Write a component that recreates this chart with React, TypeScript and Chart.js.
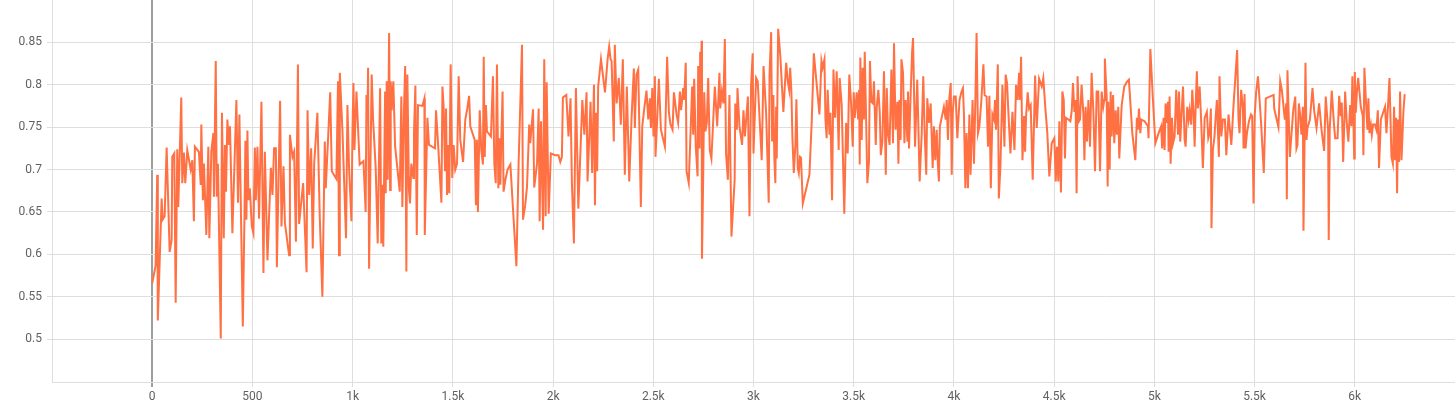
import React, { useEffect, useRef } from "react";
import { Chart, registerables } from "chart.js";

Chart.register(...registerables);

// Tick definitions
const X_TICKS = [0, 500, 1000, 1500, 2000, 2500, 3000, 3500, 4000, 4500, 5000, 5500, 6000];
const X_LABELS = ["0", "500", "1k", "1.5k", "2k", "2.5k", "3k", "3.5k", "4k", "4.5k", "5k", "5.5k", "6k"];
const Y_TICKS = [0.5, 0.55, 0.6, 0.65, 0.7, 0.75, 0.8, 0.85];
const Y_LABELS = ["0.5", "0.55", "0.6", "0.65", "0.7", "0.75", "0.8", "0.85"];

// [step, value] pairs, grouped by range
const run0to750: [number, number][] = [
  [0, 0.566], [17, 0.587], [25, 0.694], [28, 0.522], [47, 0.666], [52, 0.641], [62, 0.645], [72, 0.726],
  [87, 0.603], [97, 0.617], [100, 0.715], [110, 0.719], [117, 0.543], [125, 0.724], [130, 0.656], [145, 0.785],
  [150, 0.684], [158, 0.72], [165, 0.684], [175, 0.723], [192, 0.7], [200, 0.711], [208, 0.639], [213, 0.727],
  [233, 0.721], [242, 0.682], [245, 0.753], [253, 0.664], [258, 0.707], [270, 0.623], [280, 0.727], [285, 0.619],
  [295, 0.721], [305, 0.743], [308, 0.668], [317, 0.828], [322, 0.668], [328, 0.707], [342, 0.501], [348, 0.767],
  [357, 0.619], [363, 0.729], [368, 0.674], [375, 0.759], [383, 0.729], [388, 0.751], [400, 0.625], [420, 0.782],
  [428, 0.661], [435, 0.765], [442, 0.66], [452, 0.515], [460, 0.641], [465, 0.734], [470, 0.641], [475, 0.746],
  [480, 0.664], [487, 0.678], [497, 0.633], [505, 0.625], [512, 0.726], [517, 0.664], [525, 0.727], [533, 0.642],
  [545, 0.78], [555, 0.578], [562, 0.721], [575, 0.593], [592, 0.702], [600, 0.67], [608, 0.725], [617, 0.725],
  [622, 0.585], [638, 0.781], [645, 0.633], [655, 0.704], [662, 0.637], [683, 0.599], [687, 0.741], [700, 0.715],
  [708, 0.721], [717, 0.615], [727, 0.824],
];

const run750to1420: [number, number][] = [
  [733, 0.636], [753, 0.684], [770, 0.579], [775, 0.77], [783, 0.67], [793, 0.725], [801, 0.607], [808, 0.706],
  [824, 0.767], [836, 0.644], [849, 0.55], [861, 0.733], [866, 0.678], [888, 0.791], [896, 0.698], [919, 0.689],
  [927, 0.804], [932, 0.599], [936, 0.814], [949, 0.747], [967, 0.619], [974, 0.776], [982, 0.703], [994, 0.639],
  [999, 0.743], [1004, 0.802], [1009, 0.723], [1019, 0.792], [1035, 0.706], [1054, 0.71], [1065, 0.65], [1069, 0.788],
  [1074, 0.763], [1077, 0.82], [1082, 0.583], [1095, 0.812], [1102, 0.759], [1115, 0.702], [1125, 0.613], [1137, 0.796],
  [1143, 0.613], [1148, 0.682], [1153, 0.609], [1162, 0.792], [1165, 0.672], [1170, 0.804], [1175, 0.688], [1182, 0.861],
  [1187, 0.676], [1190, 0.804], [1195, 0.77], [1203, 0.804], [1212, 0.727], [1235, 0.674], [1243, 0.786], [1248, 0.656],
  [1256, 0.77], [1262, 0.822], [1268, 0.58], [1273, 0.812], [1281, 0.676], [1286, 0.66], [1293, 0.707], [1303, 0.69],
  [1306, 0.743], [1313, 0.799], [1320, 0.623], [1326, 0.776], [1348, 0.775], [1358, 0.784], [1360, 0.623], [1373, 0.761],
  [1381, 0.729], [1411, 0.725], [1416, 0.77],
];

const run1420to2110: [number, number][] = [
  [1426, 0.731], [1443, 0.661], [1448, 0.798], [1454, 0.774], [1461, 0.698], [1466, 0.772], [1471, 0.67], [1476, 0.729],
  [1482, 0.672], [1489, 0.824], [1497, 0.69], [1504, 0.729], [1512, 0.7], [1521, 0.707], [1529, 0.81], [1537, 0.735],
  [1551, 0.709], [1562, 0.759], [1572, 0.772], [1581, 0.787], [1587, 0.751], [1609, 0.735], [1615, 0.658], [1620, 0.735],
  [1625, 0.65], [1634, 0.77], [1642, 0.723], [1650, 0.706], [1654, 0.833], [1659, 0.715], [1665, 0.776], [1670, 0.745],
  [1690, 0.739], [1700, 0.81], [1707, 0.707], [1714, 0.684], [1720, 0.824], [1727, 0.678], [1732, 0.737], [1737, 0.682],
  [1742, 0.737], [1748, 0.792], [1753, 0.674], [1762, 0.688], [1773, 0.7], [1787, 0.706], [1817, 0.586], [1828, 0.707],
  [1845, 0.847], [1850, 0.641], [1861, 0.658], [1870, 0.68], [1881, 0.753], [1886, 0.731], [1900, 0.771], [1906, 0.679],
  [1920, 0.707], [1928, 0.772], [1933, 0.639], [1940, 0.757], [1950, 0.629], [1956, 0.83], [1963, 0.645], [1968, 0.803],
  [1978, 0.648], [1989, 0.719], [2011, 0.717], [2027, 0.717], [2036, 0.709], [2044, 0.715], [2049, 0.785], [2066, 0.788],
  [2077, 0.739], [2087, 0.784], [2094, 0.684], [2104, 0.613],
];

const run2110to2800: [number, number][] = [
  [2114, 0.796], [2126, 0.654], [2146, 0.782], [2156, 0.741], [2167, 0.791], [2172, 0.686], [2187, 0.78], [2195, 0.696],
  [2204, 0.8], [2209, 0.658], [2214, 0.767], [2220, 0.698], [2225, 0.798], [2239, 0.83], [2259, 0.791], [2272, 0.83],
  [2280, 0.845], [2287, 0.83], [2292, 0.828], [2303, 0.733], [2308, 0.847], [2317, 0.778], [2328, 0.808], [2338, 0.753],
  [2348, 0.83], [2358, 0.694], [2368, 0.798], [2380, 0.686], [2392, 0.763], [2403, 0.819], [2408, 0.749], [2416, 0.812],
  [2425, 0.818], [2438, 0.656], [2445, 0.751], [2455, 0.772], [2466, 0.793], [2475, 0.759], [2483, 0.784], [2488, 0.749],
  [2495, 0.796], [2501, 0.739], [2508, 0.81], [2511, 0.715], [2519, 0.757], [2528, 0.807], [2538, 0.747], [2558, 0.727],
  [2569, 0.833], [2578, 0.767], [2586, 0.753], [2596, 0.747], [2603, 0.791], [2616, 0.765], [2624, 0.755], [2633, 0.792],
  [2639, 0.77], [2649, 0.796], [2654, 0.782], [2662, 0.826], [2666, 0.698], [2677, 0.684], [2694, 0.798], [2699, 0.741],
  [2704, 0.807], [2712, 0.727], [2721, 0.692], [2724, 0.822], [2731, 0.725], [2734, 0.839], [2737, 0.749], [2741, 0.852],
  [2743, 0.595], [2749, 0.692], [2754, 0.791], [2760, 0.745], [2767, 0.755], [2774, 0.808], [2782, 0.723], [2790, 0.713],
];

const run2800to3490: [number, number][] = [
  [2807, 0.798], [2819, 0.751], [2830, 0.814], [2834, 0.772], [2842, 0.792], [2850, 0.778], [2857, 0.854], [2863, 0.719],
  [2872, 0.688], [2880, 0.788], [2890, 0.621], [2906, 0.688], [2909, 0.778], [2917, 0.747], [2920, 0.796], [2930, 0.751],
  [2943, 0.729], [2950, 0.77], [2957, 0.739], [2972, 0.786], [2980, 0.645], [2988, 0.8], [2996, 0.837], [3000, 0.719],
  [3013, 0.808], [3021, 0.804], [3041, 0.711], [3050, 0.822], [3063, 0.767], [3076, 0.661], [3080, 0.812], [3088, 0.862],
  [3093, 0.733], [3099, 0.788], [3104, 0.713], [3109, 0.684], [3113, 0.774], [3116, 0.713], [3123, 0.866], [3134, 0.833],
  [3149, 0.768], [3163, 0.826], [3171, 0.804], [3178, 0.794], [3183, 0.82], [3189, 0.792], [3194, 0.739], [3201, 0.696],
  [3209, 0.729], [3214, 0.783], [3221, 0.702], [3226, 0.696], [3232, 0.715], [3237, 0.714], [3246, 0.66], [3279, 0.694],
  [3291, 0.759], [3301, 0.837], [3329, 0.765], [3339, 0.828], [3345, 0.82], [3354, 0.83], [3359, 0.759], [3365, 0.737],
  [3370, 0.794], [3379, 0.741], [3384, 0.767], [3392, 0.664], [3399, 0.818], [3407, 0.761], [3415, 0.816], [3425, 0.723],
  [3430, 0.808], [3440, 0.776], [3453, 0.648], [3462, 0.755], [3470, 0.719], [3478, 0.812], [3487, 0.778],
];

const run3490to4175: [number, number][] = [
  [3495, 0.727], [3500, 0.791], [3505, 0.761], [3515, 0.791], [3522, 0.759], [3527, 0.794], [3530, 0.706], [3533, 0.832],
  [3540, 0.735], [3545, 0.82], [3551, 0.759], [3555, 0.839], [3561, 0.77], [3568, 0.684], [3576, 0.709], [3581, 0.828],
  [3588, 0.78], [3596, 0.778], [3601, 0.804], [3610, 0.729], [3615, 0.774], [3623, 0.794], [3630, 0.767], [3635, 0.717],
  [3643, 0.733], [3651, 0.816], [3660, 0.694], [3665, 0.796], [3671, 0.743], [3679, 0.729], [3688, 0.818], [3696, 0.731],
  [3701, 0.849], [3709, 0.747], [3718, 0.78], [3723, 0.707], [3728, 0.782], [3734, 0.735], [3738, 0.83], [3746, 0.814],
  [3753, 0.731], [3759, 0.782], [3768, 0.733], [3771, 0.792], [3776, 0.725], [3784, 0.788], [3791, 0.837], [3796, 0.855],
  [3806, 0.727], [3817, 0.806], [3829, 0.686], [3839, 0.741], [3847, 0.81], [3854, 0.743], [3862, 0.694], [3867, 0.784],
  [3876, 0.755], [3884, 0.778], [3894, 0.702], [3900, 0.751], [3907, 0.711], [3914, 0.747], [3920, 0.706], [3925, 0.686],
  [3930, 0.751], [3950, 0.774], [3959, 0.759], [3964, 0.782], [3970, 0.735], [3977, 0.784], [3984, 0.802], [3989, 0.694],
  [3994, 0.767], [4000, 0.786], [4009, 0.786], [4017, 0.737], [4028, 0.782], [4038, 0.792], [4045, 0.796], [4050, 0.765],
  [4057, 0.678], [4063, 0.743], [4070, 0.678], [4077, 0.765], [4083, 0.694], [4093, 0.782], [4100, 0.707], [4107, 0.782],
  [4113, 0.861], [4120, 0.743], [4127, 0.751], [4137, 0.782], [4147, 0.824], [4153, 0.788], [4163, 0.786], [4170, 0.727],
];

const run4175to4870: [number, number][] = [
  [4177, 0.787], [4184, 0.678], [4192, 0.765], [4200, 0.759], [4205, 0.782], [4210, 0.747], [4219, 0.824], [4224, 0.666],
  [4232, 0.704], [4242, 0.8], [4252, 0.727], [4258, 0.812], [4265, 0.802], [4273, 0.761], [4282, 0.719], [4292, 0.768],
  [4302, 0.723], [4310, 0.8], [4318, 0.782], [4325, 0.814], [4330, 0.782], [4335, 0.833], [4342, 0.711], [4350, 0.763],
  [4355, 0.721], [4360, 0.763], [4368, 0.791], [4375, 0.772], [4383, 0.776], [4393, 0.688], [4405, 0.811], [4413, 0.749],
  [4425, 0.807], [4438, 0.798], [4446, 0.808], [4455, 0.776], [4466, 0.743], [4476, 0.692], [4488, 0.731], [4501, 0.737],
  [4508, 0.686], [4514, 0.727], [4521, 0.686], [4526, 0.757], [4534, 0.673], [4541, 0.792], [4548, 0.782], [4554, 0.713],
  [4559, 0.761], [4571, 0.759], [4581, 0.757], [4588, 0.77], [4594, 0.802], [4601, 0.768], [4607, 0.782], [4612, 0.672],
  [4617, 0.81], [4624, 0.757], [4629, 0.759], [4637, 0.8], [4646, 0.765], [4651, 0.711], [4657, 0.774], [4664, 0.733],
  [4671, 0.782], [4679, 0.727], [4687, 0.814], [4696, 0.767], [4704, 0.698], [4712, 0.792], [4720, 0.792], [4729, 0.698],
  [4737, 0.792], [4745, 0.774], [4750, 0.782], [4753, 0.831], [4762, 0.786], [4767, 0.68], [4770, 0.78], [4777, 0.7],
  [4782, 0.792], [4787, 0.739], [4794, 0.788], [4800, 0.731], [4807, 0.77], [4813, 0.741], [4820, 0.774], [4825, 0.713],
  [4837, 0.776], [4850, 0.798], [4862, 0.803],
];

const run4870to5550: [number, number][] = [
  [4873, 0.806], [4890, 0.743], [4905, 0.711], [4913, 0.761], [4918, 0.747], [4923, 0.772], [4930, 0.743], [4935, 0.759],
  [4951, 0.757], [4968, 0.751], [4971, 0.737], [4980, 0.842], [4993, 0.782], [5005, 0.731], [5021, 0.743], [5034, 0.751],
  [5039, 0.725], [5046, 0.761], [5051, 0.723], [5056, 0.778], [5061, 0.755], [5068, 0.78], [5071, 0.721], [5076, 0.786],
  [5081, 0.707], [5088, 0.761], [5093, 0.731], [5101, 0.739], [5109, 0.794], [5118, 0.741], [5123, 0.792], [5129, 0.733],
  [5136, 0.767], [5143, 0.798], [5151, 0.735], [5156, 0.727], [5164, 0.774], [5171, 0.759], [5176, 0.77], [5184, 0.753],
  [5189, 0.794], [5196, 0.765], [5201, 0.727], [5206, 0.774], [5212, 0.816], [5217, 0.772], [5226, 0.798], [5234, 0.755],
  [5242, 0.702], [5251, 0.761], [5262, 0.768], [5269, 0.737], [5276, 0.743], [5282, 0.772], [5285, 0.631], [5292, 0.723],
  [5300, 0.739], [5305, 0.759], [5312, 0.782], [5317, 0.747], [5322, 0.715], [5325, 0.81], [5334, 0.739], [5342, 0.759],
  [5352, 0.759], [5359, 0.717], [5370, 0.765], [5384, 0.729], [5395, 0.776], [5405, 0.812], [5413, 0.841], [5420, 0.759],
  [5425, 0.743], [5433, 0.794], [5442, 0.772], [5445, 0.725], [5450, 0.789], [5455, 0.725], [5462, 0.743], [5472, 0.757],
  [5482, 0.765], [5488, 0.763], [5495, 0.66], [5501, 0.765], [5508, 0.792], [5517, 0.81], [5525, 0.782], [5533, 0.753],
  [5546, 0.696],
];

const run5550to6250: [number, number][] = [
  [5556, 0.784], [5595, 0.788], [5598, 0.772], [5619, 0.75], [5628, 0.804], [5636, 0.794], [5651, 0.759], [5658, 0.778],
  [5661, 0.665], [5664, 0.817], [5676, 0.715], [5684, 0.741], [5693, 0.77], [5703, 0.786], [5709, 0.725], [5714, 0.729],
  [5721, 0.778], [5727, 0.765], [5734, 0.741], [5741, 0.774], [5744, 0.628], [5747, 0.686], [5754, 0.826], [5759, 0.735],
  [5764, 0.749], [5776, 0.759], [5789, 0.796], [5797, 0.77], [5809, 0.749], [5822, 0.778], [5834, 0.747], [5847, 0.722],
  [5855, 0.786], [5867, 0.747], [5870, 0.617], [5875, 0.747], [5885, 0.793], [5897, 0.751], [5902, 0.737], [5914, 0.737],
  [5922, 0.787], [5930, 0.763], [5935, 0.779], [5942, 0.709], [5952, 0.792], [5960, 0.755], [5968, 0.733], [5977, 0.776],
  [5983, 0.751], [5988, 0.81], [5993, 0.759], [5997, 0.713], [6000, 0.815], [6005, 0.767], [6010, 0.79], [6017, 0.808],
  [6030, 0.774], [6040, 0.763], [6043, 0.717], [6048, 0.82], [6055, 0.784], [6063, 0.747], [6068, 0.784], [6073, 0.743],
  [6080, 0.753], [6085, 0.741], [6091, 0.753], [6101, 0.753], [6108, 0.747], [6115, 0.77], [6121, 0.702], [6130, 0.759],
  [6141, 0.767], [6151, 0.774], [6158, 0.743], [6166, 0.776], [6173, 0.808], [6183, 0.715], [6190, 0.707], [6196, 0.774],
  [6201, 0.711], [6206, 0.761], [6211, 0.672], [6216, 0.759], [6221, 0.709], [6226, 0.792], [6233, 0.711], [6243, 0.77],
  [6249, 0.789],
];

const ALL_RUNS = [
  run0to750, run750to1420, run1420to2110, run2110to2800, run2800to3490,
  run3490to4175, run4175to4870, run4870to5550, run5550to6250,
];

const GRID = "#dedede";
const ZERO = "#9e9e9e";
const TEXT = "#616161";
const LINE = "#ff7043";

export default function App() {
  const ref = useRef<HTMLCanvasElement | null>(null);

  useEffect(() => {
    if (!ref.current) return;
    const data = ALL_RUNS.flat().map(([x, y]) => ({ x, y }));
    const font = { family: "Roboto, 'Noto Sans', sans-serif", size: 12 };
    const chart = new Chart(ref.current, {
      type: "line",
      data: {
        datasets: [
          {
            data,
            borderColor: LINE,
            backgroundColor: LINE,
            borderWidth: 2,
            pointRadius: 0,
            pointHoverRadius: 0,
            tension: 0,
            fill: false,
          },
        ],
      },
      options: {
        responsive: false,
        animation: false,
        devicePixelRatio: 1,
        layout: { padding: 0 },
        plugins: { legend: { display: false }, tooltip: { enabled: false } },
        events: [],
        scales: {
          x: {
            type: "linear",
            min: -500,
            max: 6500,
            afterBuildTicks: (s: any) => {
              s.ticks = X_TICKS.map((v) => ({ value: v }));
            },
            afterFit: (s: any) => {
              s.height = 23;
              s.paddingLeft = 0;
              s.paddingRight = 0;
              s.paddingTop = 0;
              s.paddingBottom = 0;
            },
            ticks: {
              autoSkip: false,
              maxRotation: 0,
              color: TEXT,
              font,
              padding: 3,
              callback: (v: any) => {
                const i = X_TICKS.indexOf(Number(v));
                return i >= 0 ? X_LABELS[i] : "";
              },
            },
            grid: {
              color: (ctx: any) => (ctx.tick && ctx.tick.value === 0 ? ZERO : GRID),
              lineWidth: (ctx: any) => (ctx.tick && ctx.tick.value === 0 ? 2 : 1),
              tickLength: 5,
              drawTicks: true,
            },
            border: { color: GRID, width: 1 },
          },
          y: {
            type: "linear",
            min: 0.4496,
            max: 0.8999,
            afterBuildTicks: (s: any) => {
              s.ticks = Y_TICKS.map((v) => ({ value: v }));
            },
            afterFit: (s: any) => {
              s.width = 52;
              s.paddingLeft = 0;
              s.paddingRight = 0;
              s.paddingTop = 0;
              s.paddingBottom = 0;
            },
            ticks: {
              color: TEXT,
              font,
              padding: 5,
              callback: (v: any) => {
                const i = Y_TICKS.findIndex((t) => Math.abs(t - Number(v)) < 1e-6);
                return i >= 0 ? Y_LABELS[i] : "";
              },
            },
            grid: { color: GRID, lineWidth: 1, tickLength: 5, drawTicks: true },
            border: { color: GRID, width: 1 },
          },
        },
      },
    });
    return () => chart.destroy();
  }, []);

  return (
    <div style={{ position: "absolute", left: 0, top: 0, width: 1455, height: 405, background: "#fff" }}>
      <canvas ref={ref} width={1455} height={405} style={{ display: "block", width: 1455, height: 405 }} />
    </div>
  );
}
